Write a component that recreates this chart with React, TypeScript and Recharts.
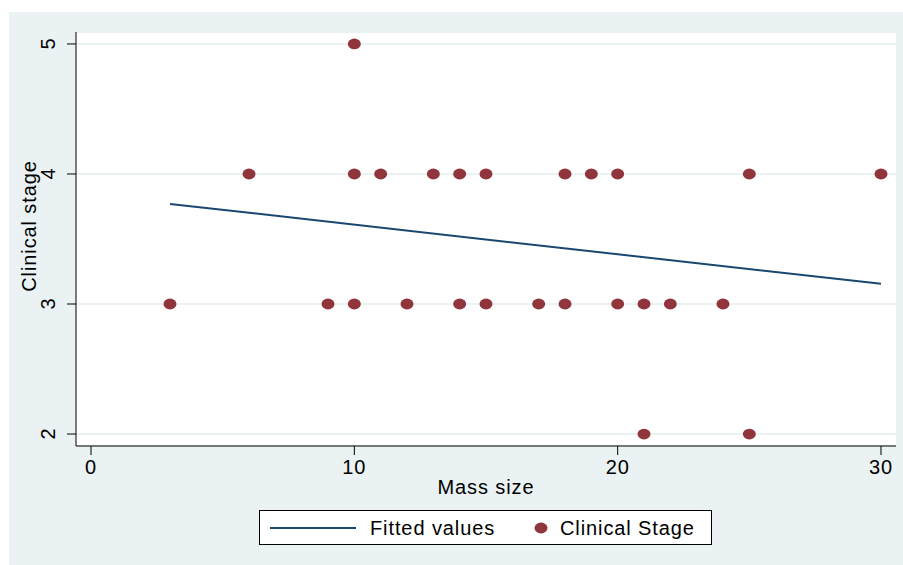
import React from 'react'
import {
  ScatterChart,
  Scatter,
  XAxis,
  YAxis,
  CartesianGrid
} from 'recharts'

// mass size (x) and clinical stage (y) for each observation
const massSize = [10, 6, 10, 11, 13, 14, 15, 18, 19, 20, 25, 30, 3, 9, 10, 12, 14, 15, 17, 18, 20, 21, 22, 24, 21, 25]
const clinicalStage = [5, 4, 4, 4, 4, 4, 4, 4, 4, 4, 4, 4, 3, 3, 3, 3, 3, 3, 3, 3, 3, 3, 3, 3, 2, 2]

// fitted regression line end points
const fitX = [3, 30]
const fitY = [3.77, 3.155]

const xTicks = [0, 10, 20, 30]
const yTicks = [2, 3, 4, 5]

const NAVY = '#1a476f'
const MAROON = '#90353b'
const BG = '#eaf2f3'
const FONT = '"Liberation Sans", Arial, sans-serif'
const FS = 20
const LS = 0.9

const points = massSize.map((x, i) => ({ x, y: clinicalStage[i] }))
const fitted = fitX.map((x, i) => ({ x, y: fitY[i] }))

const Dot = (props: any) => {
  const { cx, cy } = props
  if (cx == null || cy == null) return <g />
  return <ellipse cx={cx} cy={cy} rx={6.5} ry={5.4} fill={MAROON} />
}

const XTick = ({ x, y, payload }: any) => (
  <text x={x} y={y} dy={17} textAnchor="middle" fontSize={FS} letterSpacing={LS} fill="#000" fontFamily={FONT}>
    {payload.value}
  </text>
)

// stata style: y labels rotated to read upwards
const YTick = ({ x, y, payload }: any) => (
  <text x={x} y={y} transform={`rotate(-90, ${x}, ${y})`} textAnchor="middle" fontSize={FS} fill="#000" fontFamily={FONT}>
    {payload.value}
  </text>
)

export default function App() {
  return (
    <div style={{ position: 'absolute', left: 0, top: 0, width: 903, height: 565, background: '#fff', fontFamily: FONT }}>
      <div style={{ position: 'absolute', left: 9, top: 12, width: 894, height: 553, background: BG }} />
      <div style={{ position: 'absolute', left: 0, top: 0 }}>
        <ScatterChart width={903} height={565} margin={{ top: 32, right: 7, bottom: 0, left: 0 }}>
          <CartesianGrid vertical={false} stroke={BG} strokeWidth={2} fill="#fff" fillOpacity={1} />
          <XAxis
            type="number"
            dataKey="x"
            domain={[-0.57, 30.57]}
            ticks={xTicks}
            allowDataOverflow
            height={119}
            tickSize={9}
            tickMargin={2}
            tick={XTick}
            axisLine={{ stroke: '#000' }}
            tickLine={{ stroke: '#000' }}
            label={({ viewBox }: any) => (
              <text x={viewBox.x + viewBox.width / 2} y={494} textAnchor="middle" fontSize={FS} letterSpacing={LS} fill="#000" fontFamily={FONT}>
                Mass size
              </text>
            )}
          />
          <YAxis
            type="number"
            dataKey="y"
            domain={[1.908, 5.092]}
            ticks={yTicks}
            allowDataOverflow
            width={76}
            tickSize={9}
            tickMargin={12}
            tick={YTick}
            axisLine={{ stroke: '#000' }}
            tickLine={{ stroke: '#000' }}
            label={() => (
              <text x={36} y={226} transform="rotate(-90, 36, 226)" textAnchor="middle" fontSize={FS} letterSpacing={LS} fill="#000" fontFamily={FONT}>
                Clinical stage
              </text>
            )}
          />
          <Scatter
            data={fitted}
            line={{ stroke: NAVY, strokeWidth: 2 }}
            lineType="joint"
            shape={() => <g />}
            isAnimationActive={false}
          />
          <Scatter data={points} shape={Dot} isAnimationActive={false} />
        </ScatterChart>
      </div>
      {/* legend box */}
      <div style={{ position: 'absolute', left: 259, top: 510, width: 451, height: 33, border: '1px solid #000', background: '#fff' }}>
        <svg width={451} height={33} style={{ position: 'absolute', left: 0, top: 0 }}>
          <line x1={10} x2={96} y1={17} y2={17} stroke={NAVY} strokeWidth={2} />
          <text x={110} y={24} fontSize={FS} letterSpacing={LS} fill="#000" fontFamily={FONT}>Fitted values</text>
          <ellipse cx={281} cy={17} rx={6.5} ry={5.4} fill={MAROON} />
          <text x={300} y={24} fontSize={FS} letterSpacing={LS} fill="#000" fontFamily={FONT}>Clinical Stage</text>
        </svg>
      </div>
    </div>
  )
}
